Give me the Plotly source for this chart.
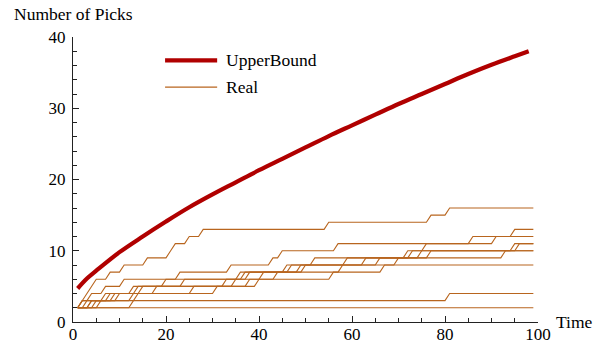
import plotly.graph_objects as go

# ---------------- data ----------------
time_steps = list(range(1, 100))
start_value = 2

# Upper bound curve (values read at these times)
bound_t = [1, 3, 5, 10, 15, 20, 25, 30, 35, 40, 45, 50, 55, 60, 65, 70, 75, 80, 85, 90, 95, 98]
bound_v = [4.7, 6.1, 7.2, 9.8, 12.0, 14.1, 16.1, 17.9, 19.6, 21.3, 22.9, 24.5, 26.1,
           27.6, 29.1, 30.6, 32.0, 33.4, 34.8, 36.1, 37.3, 38.0]

# "Real" runs: times at which the pick count increases by one
real_a_picks = [2, 3, 4, 5, 8, 11, 16, 21, 22, 25, 28, 55, 77, 81]
real_b_picks = [2, 4, 7, 11, 23, 34, 43, 45, 57, 86, 95]
real_c_picks = [4, 7, 14, 33, 38, 47, 52, 73, 76, 91]
real_d_picks = [2, 9, 13, 20, 36, 46, 63, 77, 96]
real_e_picks = [5, 10, 18, 35, 37, 50, 59, 75]
real_f_picks = [3, 8, 15, 24, 41, 49, 66, 72, 95]
real_g_picks = [6, 13, 31, 38, 44, 58, 70, 93]
real_h_picks = [4, 14, 26, 40, 56, 67]
real_i_picks = [13, 81]
real_j_picks = []

real_runs = [real_a_picks, real_b_picks, real_c_picks, real_d_picks, real_e_picks,
             real_f_picks, real_g_picks, real_h_picks, real_i_picks, real_j_picks]

x_ticks = [0, 20, 40, 60, 80, 100]
y_ticks = [0, 10, 20, 30, 40]

# ---------------- figure ----------------
RED = "#B00000"
BROWN = "#B8651E"
FONT = "Liberation Serif, Times New Roman, DejaVu Serif, serif"

fig = go.Figure()

for run in real_runs:
    vals = [start_value + sum(1 for p in run if p <= t) for t in time_steps]
    fig.add_trace(go.Scatter(x=time_steps, y=vals, mode="lines",
                             line=dict(color=BROWN, width=1.1),
                             showlegend=False, hoverinfo="skip"))

fig.add_trace(go.Scatter(x=bound_t, y=bound_v, mode="lines",
                         line=dict(color=RED, width=4.2, shape="spline"),
                         showlegend=False))

axis_common = dict(showgrid=False, zeroline=False, showline=True, linecolor="#222",
                   linewidth=1, ticks="inside", ticklen=6, tickcolor="#222",
                   tickfont=dict(family=FONT, size=17, color="black"), mirror=False,
                   automargin=False)

fig.update_xaxes(range=[0, 100], tickvals=x_ticks, ticklabelstandoff=-3,
                 minor=dict(dtick=5, ticks="inside", ticklen=4, tickcolor="#222"),
                 **axis_common)
fig.update_yaxes(range=[0, 40], tickvals=y_ticks, ticklabelstandoff=3,
                 minor=dict(dtick=2, ticks="inside", ticklen=4, tickcolor="#222"),
                 **axis_common)

LABEL_FONT = dict(family=FONT, size=17.5, color="black")

# axis labels
fig.add_annotation(text="Time", xref="paper", yref="y", x=1, y=0, xanchor="left",
                   yanchor="middle", xshift=16, showarrow=False, font=LABEL_FONT)
fig.add_annotation(text="Number of Picks", xref="x", yref="paper", x=0, y=1,
                   xanchor="center", yanchor="bottom", yshift=11, showarrow=False,
                   font=LABEL_FONT)

# legend
fig.add_shape(type="line", xref="paper", yref="paper", x0=0.198, x1=0.31, y0=0.918, y1=0.918,
              line=dict(color=RED, width=4.2))
fig.add_shape(type="line", xref="paper", yref="paper", x0=0.198, x1=0.31, y0=0.824, y1=0.824,
              line=dict(color=BROWN, width=1.1))
fig.add_annotation(text="UpperBound", xref="paper", yref="paper", x=0.325, y=0.918,
                   xanchor="left", yanchor="middle", showarrow=False, font=LABEL_FONT)
fig.add_annotation(text="Real", xref="paper", yref="paper", x=0.325, y=0.824,
                   xanchor="left", yanchor="middle", showarrow=False, font=LABEL_FONT)

fig.update_layout(width=597, height=343, margin=dict(l=73, r=59, t=37, b=21),
                  plot_bgcolor="white", paper_bgcolor="white", showlegend=False,
                  font=dict(family=FONT))

fig.write_html("out.html")
